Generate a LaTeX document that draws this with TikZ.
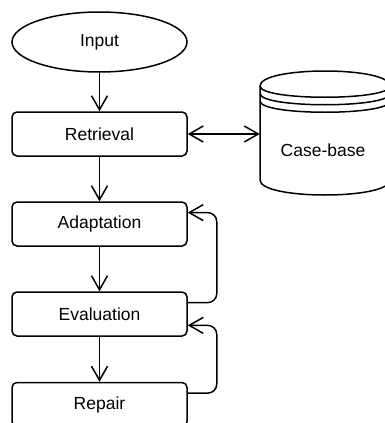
\documentclass[tikz,border=0pt]{standalone}
\usepackage{fontspec}
\setmainfont{Liberation Sans}
\usetikzlibrary{arrows.meta,shapes.geometric,calc}
\begin{document}
\begin{tikzpicture}[x=1pt,y=-1pt,
  every node/.style={font=\fontsize{17.5}{21}\selectfont},
  ln/.style={line width=1.5pt, draw=black},
  box/.style={ln, rectangle, rounded corners=5pt, minimum width=175pt, minimum height=44pt, inner sep=0pt},
  ell/.style={ln, ellipse, minimum width=175pt, minimum height=60pt, inner sep=0pt},
  arr/.style={ln, -{Straight Barb[length=14pt,width=16pt,line width=1.5pt]}},
  darr/.style={ln, {Straight Barb[length=14pt,width=16pt,line width=1.5pt]}-{Straight Barb[length=14pt,width=16pt,line width=1.5pt]}},
]
\path[use as bounding box] (0,0) rectangle (385,423);
\clip (0,0) rectangle (385,423);

\node[ell] (inp) at (99.5,42) {Input};
\node[box] (ret) at (99.5,134) {Retrieval};
\node[box] (ada) at (99.5,224) {Adaptation};
\node[box] (eva) at (99.5,314) {Evaluation};
\node[box] (rep) at (99.5,404.5) {Repair};

% cylinder (data store)
\node[minimum width=130pt, minimum height=124pt, inner sep=0pt] (cb) at (325,133) {};
\draw[ln, line join=round] (260,86) .. controls (260,66) and (390,66) .. (390,86)
  -- (390,180) .. controls (390,200) and (260,200) .. (260,180) -- cycle;
\draw[ln] (260,86) .. controls (260,101) and (390,101) .. (390,86);
\draw[ln] (260,93.5) .. controls (260,108.5) and (390,108.5) .. (390,93.5);
\draw[ln] (260,101) .. controls (260,116) and (390,116) .. (390,101);
\node (cbl) at (323,150) {Case-base};

% connectors
\draw[arr] (inp.south) -- (ret.north);
\draw[arr] (ret.south) -- (ada.north);
\draw[arr] (ada.south) -- (eva.north);
\draw[arr] (eva.south) -- (rep.north);
\draw[darr] (ret.east) -- (ret.east -| cb.west);

\coordinate (e1) at ($(eva.north east)!0.25!(eva.south east)$);
\coordinate (a1) at ($(ada.north east)!0.25!(ada.south east)$);
\coordinate (e3) at ($(eva.north east)!0.75!(eva.south east)$);
\coordinate (r1) at ($(rep.north east)!0.25!(rep.south east)$);
\draw[arr, rounded corners=9pt] (e1) -- ++(29,0) |- (a1);
\draw[arr, rounded corners=9pt] (r1) -- ++(29,0) |- (e3);
\end{tikzpicture}
\end{document}
